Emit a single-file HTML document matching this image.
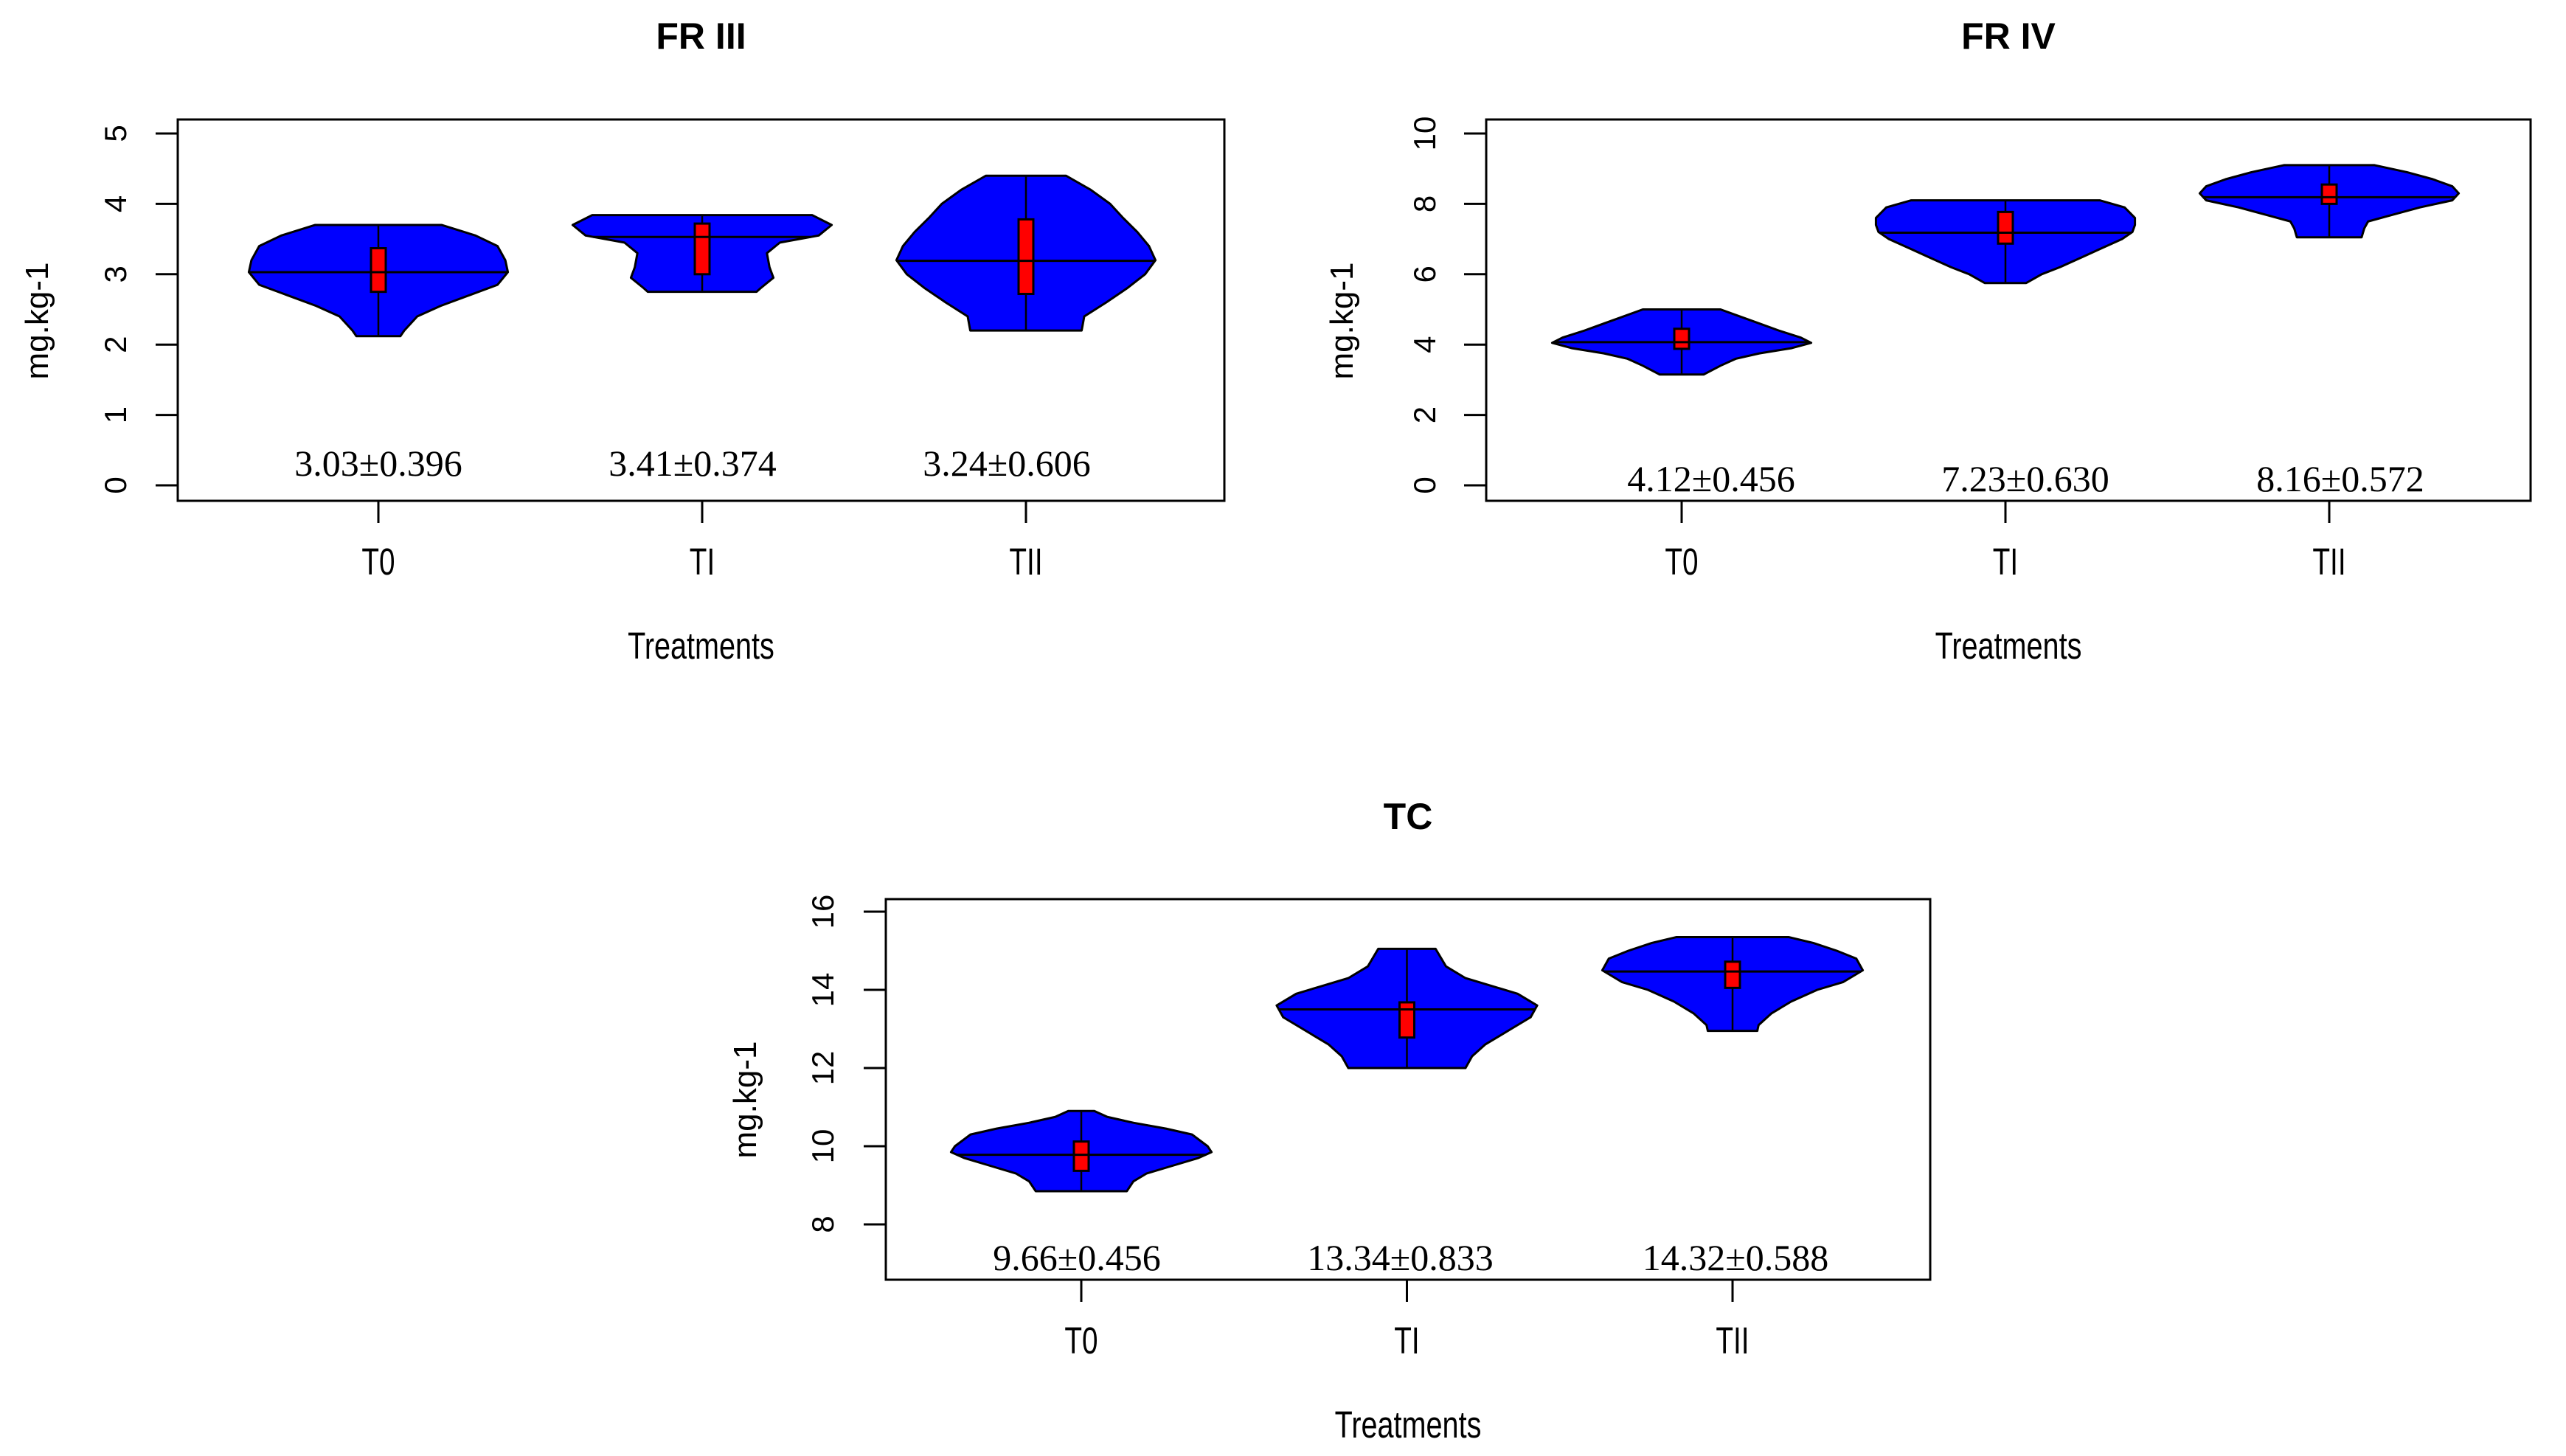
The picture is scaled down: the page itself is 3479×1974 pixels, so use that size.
<!DOCTYPE html>
<html><head><meta charset="utf-8"><style>
html,body{margin:0;padding:0;background:#fff;}
svg{display:block;}
</style></head><body>
<svg id="chart" width="3479" height="1974" viewBox="0 0 3479 1974" xmlns="http://www.w3.org/2000/svg"></svg>
<script>
// ---- data ----
const categories = ["T0", "TI", "TII"];
const titles = ["FR III", "FR IV", "TC"];
const yTicks1 = [0, 1, 2, 3, 4, 5];
const yTicks2 = [0, 2, 4, 6, 8, 10];
const yTicks3 = [8, 10, 12, 14, 16];
const labels1 = ["3.03±0.396", "3.41±0.374", "3.24±0.606"];
const labels2 = ["4.12±0.456", "7.23±0.630", "8.16±0.572"];
const labels3 = ["9.66±0.456", "13.34±0.833", "14.32±0.588"];
// box stats per category: [min, q1, median, q3, max]
const stats1 = [[2.12, 2.75, 3.03, 3.37, 3.70], [2.75, 3.00, 3.53, 3.72, 3.84], [2.20, 2.72, 3.19, 3.78, 4.40]];
const stats2 = [[3.15, 3.88, 4.07, 4.45, 5.00], [5.75, 6.87, 7.18, 7.77, 8.10], [7.05, 8.00, 8.19, 8.55, 9.10]];
const stats3 = [[8.85, 9.37, 9.78, 10.12, 10.90], [12.00, 12.78, 13.50, 13.68, 15.05], [12.95, 14.05, 14.47, 14.72, 15.35]];
// density profiles: values (top to bottom) and relative half-widths
const dens1Vals = [[3.7, 3.55, 3.4, 3.2, 3.03, 2.85, 2.7, 2.55, 2.4, 2.2, 2.12],
                   [3.84, 3.7, 3.55, 3.45, 3.3, 3.1, 2.95, 2.8, 2.75],
                   [4.4, 4.2, 4.0, 3.8, 3.6, 3.4, 3.2, 3.0, 2.8, 2.6, 2.4, 2.2]];
const dens1W = [[0.49, 0.75, 0.92, 0.98, 1.0, 0.92, 0.7, 0.48, 0.3, 0.2, 0.17],
                [0.85, 1.0, 0.9, 0.6, 0.5, 0.52, 0.55, 0.45, 0.42],
                [0.31, 0.5, 0.65, 0.75, 0.86, 0.95, 1.0, 0.92, 0.78, 0.62, 0.45, 0.43]];
const dens2Vals = [[5.0, 4.8, 4.6, 4.4, 4.2, 4.05, 3.9, 3.75, 3.6, 3.4, 3.15],
                   [8.1, 7.9, 7.6, 7.4, 7.2, 7.0, 6.7, 6.5, 6.2, 6.0, 5.75],
                   [9.1, 8.9, 8.7, 8.5, 8.3, 8.1, 7.9, 7.65, 7.5, 7.3, 7.05]];
const dens2W = [[0.3, 0.45, 0.6, 0.75, 0.92, 1.0, 0.85, 0.6, 0.42, 0.3, 0.17],
                [0.73, 0.92, 1.0, 1.0, 0.98, 0.9, 0.72, 0.6, 0.42, 0.28, 0.16],
                [0.35, 0.6, 0.8, 0.95, 1.0, 0.95, 0.7, 0.45, 0.3, 0.27, 0.25]];
const dens3Vals = [[10.9, 10.75, 10.6, 10.45, 10.3, 10.0, 9.85, 9.7, 9.5, 9.3, 9.1, 8.85],
                   [15.05, 14.6, 14.3, 14.1, 13.9, 13.6, 13.3, 13.0, 12.6, 12.3, 12.0],
                   [15.35, 15.2, 15.0, 14.8, 14.5, 14.2, 14.0, 13.7, 13.4, 13.1, 12.95]];
const dens3W = [[0.1, 0.2, 0.4, 0.65, 0.85, 0.97, 1.0, 0.9, 0.7, 0.5, 0.4, 0.35],
                [0.22, 0.3, 0.45, 0.65, 0.85, 1.0, 0.95, 0.8, 0.6, 0.5, 0.45],
                [0.43, 0.62, 0.8, 0.95, 1.0, 0.85, 0.65, 0.45, 0.3, 0.2, 0.19]];

const NS = "http://www.w3.org/2000/svg";
const svg = document.getElementById("chart");
function mk(tag, attrs, parent) {
  const e = document.createElementNS(NS, tag);
  for (const k in attrs) e.setAttribute(k, attrs[k]);
  (parent || svg).appendChild(e);
  return e;
}

const panels = [
  {box: [241, 162, 1660, 679], yMin: 0, yMax: 5, y0px: 658, y1px: 181, cx0: 513, dx: 439,
   ticks: yTicks1, labels: labels1, stats: stats1, vals: dens1Vals, ws: dens1W,
   tickX: 156, ylabX: 50, ylabY: 435, titleY: 49, labY: 630, labOff: [0, -13, -26], name: "fr-iii"},
  {box: [2015, 162, 3431, 679], yMin: 0, yMax: 10, y0px: 658, y1px: 181, cx0: 2280, dx: 439,
   ticks: yTicks2, labels: labels2, stats: stats2, vals: dens2Vals, ws: dens2W,
   tickX: 1931, ylabX: 1819, ylabY: 435, titleY: 49, labY: 651, labOff: [40, 27, 15], name: "fr-iv"},
  {box: [1201, 1219, 2617, 1735], yMin: 8, yMax: 16, y0px: 1660, y1px: 1236, cx0: 1466, dx: 441.5,
   ticks: yTicks3, labels: labels3, stats: stats3, vals: dens3Vals, ws: dens3W,
   tickX: 1115, ylabX: 1010, ylabY: 1491, titleY: 1107, labY: 1707, labOff: [-6, -9, 4], name: "tc"}
];

panels.forEach((p, pi) => {
  const g = mk("g", {});
  
  
  const yS = v => p.y0px + (v - p.yMin) * (p.y1px - p.y0px) / (p.yMax - p.yMin);
  const xS = i => p.cx0 + i * p.dx;
  const hwMax = 0.4 * p.dx;
  const [bx0, by0, bx1, by1] = p.box;
  const cxMid = (bx0 + bx1) / 2;

  const t = mk("text", {x: cxMid, y: p.titleY + 17, "text-anchor": "middle", "font-family": "Liberation Sans, sans-serif", "font-weight": "bold", "font-size": 50}, g);
  t.textContent = titles[pi];
  
  

  categories.forEach((c, i) => {
    const vals = p.vals[i], ws = p.ws[i], st = p.stats[i], cx = xS(i);
    let pts = [];
    vals.forEach((v, k) => pts.push([cx + ws[k] * hwMax, yS(v)]));
    for (let k = vals.length - 1; k >= 0; k--) pts.push([cx - ws[k] * hwMax, yS(vals[k])]);
    const poly = mk("polygon", {points: pts.map(q => q.join(",")).join(" "), fill: "#0000ff", stroke: "#000", "stroke-width": 3, "stroke-linejoin": "round"}, g);
    
    
    let mw = 1;
    for (let k = 0; k < vals.length - 1; k++) {
      if (st[2] <= vals[k] && st[2] >= vals[k + 1]) {
        const f = (vals[k] - st[2]) / (vals[k] - vals[k + 1]);
        mw = ws[k] + f * (ws[k + 1] - ws[k]);
      }
    }
    const ml = mk("line", {x1: cx - mw * hwMax, x2: cx + mw * hwMax, y1: yS(st[2]), y2: yS(st[2]), stroke: "#000", "stroke-width": 3}, g);
    
    
    const wl = mk("line", {x1: cx, x2: cx, y1: yS(st[0]), y2: yS(st[4]), stroke: "#000", "stroke-width": 2.5}, g);
    
    
    const bx = mk("rect", {x: cx - 10, y: yS(st[3]), width: 20, height: yS(st[1]) - yS(st[3]), fill: "#ff0000", stroke: "#000", "stroke-width": 3}, g);
    
    
    const ml2 = mk("line", {x1: cx - 10, x2: cx + 10, y1: yS(st[2]), y2: yS(st[2]), stroke: "#000", "stroke-width": 3}, g);
    
    

    const lb = mk("text", {x: cx + p.labOff[i], y: p.labY + 15, "text-anchor": "middle", "font-family": "Liberation Serif, serif", "font-size": 50}, g);
    lb.textContent = p.labels[i];
    
    

    const tk = mk("line", {x1: cx, x2: cx, y1: by1, y2: by1 + 30, stroke: "#000", "stroke-width": 3}, g);
    
    
    const ty = by1 + 100;
    const tl = mk("text", {x: cx, y: ty, "text-anchor": "middle", "font-family": "Liberation Sans, sans-serif", "font-size": 44}, g);
    tl.setAttribute("transform", `translate(${cx},${ty}) scale(0.88,1.15) translate(${-cx},${-ty})`);
    tl.textContent = c;
    
    
  });

  const frame = mk("rect", {x: bx0, y: by0, width: bx1 - bx0, height: by1 - by0, fill: "none", stroke: "#000", "stroke-width": 3}, g);
  
  

  p.ticks.forEach(v => {
    const y = yS(v);
    const l = mk("line", {x1: bx0 - 30, x2: bx0, y1: y, y2: y, stroke: "#000", "stroke-width": 3}, g);
    
    
    const tx = mk("text", {x: 0, y: 0, "text-anchor": "middle", "font-family": "Liberation Sans, sans-serif", "font-size": 42, transform: `translate(${p.tickX + 15},${y}) rotate(-90)`}, g);
    tx.textContent = String(v);
    
    
  });

  const yl = mk("text", {x: 0, y: 0, "text-anchor": "middle", "font-family": "Liberation Sans, sans-serif", "font-size": 44, transform: `translate(${p.ylabX + 15},${p.ylabY}) rotate(-90)`}, g);
  yl.textContent = "mg.kg-1";
  
  

  const xy = by1 + 214;
  const xl = mk("text", {x: cxMid, y: xy, "text-anchor": "middle", "font-family": "Liberation Sans, sans-serif", "font-size": 44}, g);
  xl.setAttribute("transform", `translate(${cxMid},${xy}) scale(0.9,1.15) translate(${-cxMid},${-xy})`);
  xl.textContent = "Treatments";
  
  
});
</script>
</body></html>
